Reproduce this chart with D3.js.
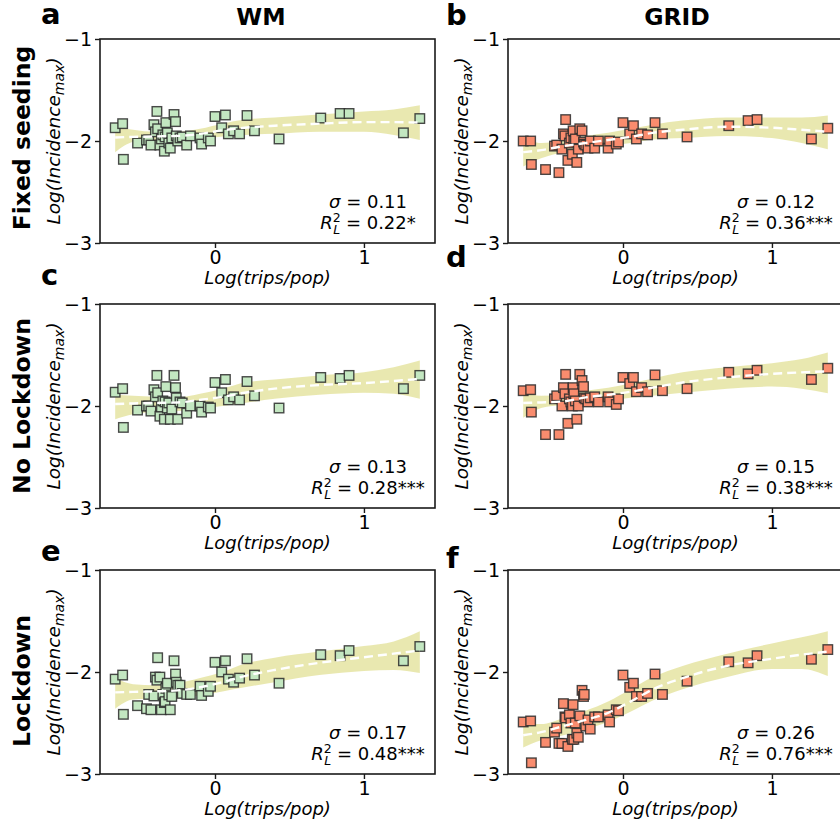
<!DOCTYPE html>
<html><head><meta charset="utf-8">
<script src="https://cdn.jsdelivr.net/npm/d3@7"></script>
<style>body{margin:0;background:#fff} svg{display:block}</style>
</head><body>
<svg id="chart" width="840" height="825"></svg>
<script>
// ---- data ----
const tripsX = [-0.67,-0.62,-0.615,-0.52,-0.46,-0.445,-0.43,-0.41,-0.40,-0.39,-0.385,-0.37,-0.36,-0.35,-0.34,-0.335,-0.33,-0.32,-0.31,-0.30,-0.29,-0.275,-0.265,-0.26,-0.25,-0.235,-0.22,-0.19,-0.165,-0.10,-0.09,-0.045,-0.03,0.00,0.045,0.07,0.09,0.125,0.165,0.215,0.265,0.43,0.71,0.84,0.90,1.265,1.375];
const wmFixed = [-1.87,-1.83,-2.18,-2.02,-1.99,-1.99,-2.04,-1.84,-1.91,-1.71,-1.88,-2.04,-1.98,-1.94,-2.10,-1.96,-1.82,-1.92,-2.02,-2.07,-1.97,-1.74,-1.81,-1.95,-2.00,-1.97,-1.96,-2.04,-1.95,-1.97,-2.03,-1.97,-2.00,-1.76,-1.87,-1.745,-1.93,-1.90,-1.93,-1.75,-1.90,-1.98,-1.775,-1.73,-1.73,-1.92,-1.78];
const gridFixed = [-2.00,-2.00,-2.23,-2.28,-2.05,-2.04,-2.31,-2.08,-1.93,-1.95,-1.79,-2.19,-2.02,-1.97,-2.13,-1.90,-2.00,-1.98,-2.21,-2.08,-1.88,-1.90,-2.01,-2.03,-2.04,-2.07,-2.00,-2.07,-2.00,-2.07,-2.00,-2.03,-2.01,-1.82,-1.93,-1.85,-1.98,-1.93,-1.94,-1.82,-1.93,-1.96,-1.85,-1.80,-1.79,-1.98,-1.875];
const wmNoLock = [-1.865,-1.83,-2.21,-2.04,-2.00,-2.00,-2.05,-1.84,-1.91,-1.70,-1.87,-2.10,-2.01,-1.95,-2.13,-1.96,-1.81,-2.02,-1.97,-2.13,-2.03,-1.70,-1.82,-1.92,-2.13,-1.96,-1.97,-2.07,-2.00,-2.00,-2.06,-2.01,-2.02,-1.77,-1.87,-1.74,-1.94,-1.91,-1.94,-1.76,-1.90,-2.02,-1.72,-1.73,-1.70,-1.83,-1.70];
const gridNoLock = [-1.85,-1.84,-2.06,-2.28,-1.93,-1.90,-2.28,-2.00,-1.82,-1.88,-1.69,-2.17,-1.93,-1.96,-2.00,-1.82,-1.88,-1.95,-2.13,-2.00,-1.69,-1.75,-1.81,-1.92,-1.93,-1.96,-1.92,-1.91,-1.96,-1.91,-1.96,-1.985,-1.93,-1.72,-1.78,-1.72,-1.86,-1.82,-1.86,-1.695,-1.85,-1.83,-1.67,-1.685,-1.65,-1.74,-1.63];
const wmLock = [-2.07,-2.03,-2.415,-2.33,-2.36,-2.22,-2.37,-2.235,-2.05,-2.08,-1.86,-2.05,-2.37,-2.22,-2.30,-2.29,-2.16,-2.11,-2.225,-2.37,-2.24,-1.89,-2.02,-2.10,-2.13,-2.13,-2.21,-2.22,-2.22,-2.14,-2.23,-2.19,-2.14,-1.905,-2.00,-1.89,-2.07,-2.10,-2.06,-1.87,-2.03,-2.11,-1.83,-1.84,-1.79,-1.89,-1.75];
const gridLock = [-2.49,-2.48,-2.89,-2.69,-2.59,-2.55,-2.70,-2.70,-2.31,-2.44,-2.45,-2.73,-2.42,-2.50,-2.66,-2.32,-2.66,-2.50,-2.60,-2.64,-2.43,-2.18,-2.24,-2.22,-2.53,-2.47,-2.56,-2.44,-2.44,-2.42,-2.49,-2.37,-2.38,-2.03,-2.15,-2.11,-2.24,-2.24,-2.21,-2.02,-2.22,-2.09,-1.90,-1.91,-1.84,-1.875,-1.78];

// smoothed fit (LOWESS) and its confidence band, sampled at fitX
const fitX = [-0.67,-0.55,-0.40,-0.25,-0.10,0.05,0.20,0.40,0.70,1.00,1.20,1.375];
const fitWmFixed   = [-1.965,-1.96,-1.955,-1.95,-1.93,-1.895,-1.87,-1.85,-1.83,-1.815,-1.815,-1.82];
const loWmFixed    = [-2.11,-2.01,-1.99,-1.99,-1.98,-1.955,-1.94,-1.93,-1.91,-1.91,-1.94,-1.99];
const hiWmFixed    = [-1.86,-1.89,-1.91,-1.91,-1.88,-1.83,-1.79,-1.77,-1.74,-1.71,-1.69,-1.65];
const fitGridFixed = [-2.11,-2.09,-2.05,-2.02,-1.99,-1.96,-1.92,-1.89,-1.86,-1.87,-1.89,-1.91];
const loGridFixed  = [-2.25,-2.17,-2.11,-2.08,-2.05,-2.02,-1.985,-1.97,-1.95,-1.97,-2.02,-2.08];
const hiGridFixed  = [-1.95,-2.02,-1.99,-1.95,-1.92,-1.88,-1.84,-1.80,-1.77,-1.77,-1.77,-1.75];
const fitWmNoLock  = [-1.98,-1.975,-1.97,-1.965,-1.94,-1.91,-1.87,-1.83,-1.795,-1.775,-1.755,-1.735];
const loWmNoLock   = [-2.13,-2.08,-2.06,-2.05,-2.03,-2.00,-1.97,-1.93,-1.89,-1.87,-1.88,-1.93];
const hiWmNoLock   = [-1.89,-1.90,-1.91,-1.915,-1.88,-1.83,-1.77,-1.74,-1.70,-1.67,-1.62,-1.555];
const fitGridNoLock= [-1.97,-1.965,-1.955,-1.915,-1.89,-1.86,-1.82,-1.77,-1.72,-1.685,-1.67,-1.66];
const loGridNoLock = [-2.115,-2.02,-1.99,-1.97,-1.95,-1.92,-1.90,-1.87,-1.83,-1.81,-1.83,-1.875];
const hiGridNoLock = [-1.85,-1.90,-1.89,-1.85,-1.82,-1.78,-1.73,-1.67,-1.62,-1.58,-1.54,-1.475];
const fitWmLock    = [-2.20,-2.195,-2.19,-2.18,-2.15,-2.10,-2.04,-1.98,-1.91,-1.855,-1.82,-1.79];
const loWmLock     = [-2.36,-2.27,-2.26,-2.25,-2.23,-2.19,-2.15,-2.10,-2.03,-1.99,-1.98,-2.01];
const hiWmLock     = [-2.06,-2.12,-2.13,-2.11,-2.06,-2.00,-1.92,-1.86,-1.80,-1.745,-1.70,-1.60];
const fitGridLock  = [-2.62,-2.59,-2.53,-2.47,-2.40,-2.29,-2.17,-2.06,-1.94,-1.87,-1.83,-1.80];
const loGridLock   = [-2.74,-2.67,-2.62,-2.56,-2.49,-2.39,-2.28,-2.17,-2.05,-1.97,-1.97,-2.04];
const hiGridLock   = [-2.51,-2.51,-2.45,-2.38,-2.29,-2.17,-2.05,-1.94,-1.82,-1.72,-1.66,-1.60];

const columnTitles = ["WM", "GRID"];
const rowTitles = ["Fixed seeding", "No Lockdown", "Lockdown"];
const panelLetters = ["a", "b", "c", "d", "e", "f"];
const sigmaLabels = ["0.11", "0.12", "0.13", "0.15", "0.17", "0.26"];
const r2Labels = ["0.22*", "0.36***", "0.28***", "0.38***", "0.48***", "0.76***"];
const xTicks = [0, 1];
const yTicks = [-3, -2, -1];
const xLabel = "Log(trips/pop)";

// ---- layout ----
const W = 840, H = 825;
const colX = [100, 508], rowY = [39, 304, 570];
const pw = 335, ph = 204;
const colors = ["#c3e7c1", "#f98c6e"];
const FONT = "DejaVu Sans, Arial, sans-serif";

const panels = [
  {y: wmFixed,    fit: fitWmFixed,    lo: loWmFixed,    hi: hiWmFixed},
  {y: gridFixed,  fit: fitGridFixed,  lo: loGridFixed,  hi: hiGridFixed},
  {y: wmNoLock,   fit: fitWmNoLock,   lo: loWmNoLock,   hi: hiWmNoLock},
  {y: gridNoLock, fit: fitGridNoLock, lo: loGridNoLock, hi: hiGridNoLock},
  {y: wmLock,     fit: fitWmLock,     lo: loWmLock,     hi: hiWmLock},
  {y: gridLock,   fit: fitGridLock,   lo: loGridLock,   hi: hiGridLock}
];

const svg = d3.select("#chart");
svg.append("rect").attr("width", W).attr("height", H).attr("fill", "#fff");

const x = d3.scaleLinear().domain([-0.772, 1.477]).range([0, pw]);
const y = d3.scaleLinear().domain([-3, -1]).range([ph, 0]);
const fmt = d3.format("d");

panels.forEach((p, i) => {
  const col = i % 2, row = Math.floor(i / 2);
  const g = svg.append("g").attr("transform", `translate(${colX[col]},${rowY[row]})`);

  // band
  const band = fitX.map((fx, k) => ({x: fx, lo: p.lo[k], hi: p.hi[k], f: p.fit[k]}));
  g.append("path").datum(band)
    .attr("d", d3.area().curve(d3.curveMonotoneX).x(d => x(d.x)).y0(d => y(d.lo)).y1(d => y(d.hi)))
    .attr("fill", "#c4c330").attr("fill-opacity", 0.38);

  // points
  const pts = tripsX.map((tx, k) => ({x: tx, y: p.y[k]}));
  const s = 9.5;
  g.selectAll("rect.pt").data(pts).join("rect").attr("class", "pt")
    .attr("x", d => x(d.x) - s / 2).attr("y", d => y(d.y) - s / 2)
    .attr("width", s).attr("height", s)
    .attr("fill", colors[col]).attr("stroke", "#2a2a2a").attr("stroke-width", 1.4)
    .attr("stroke-opacity", 0.85);

  // fit line
  g.append("path").datum(band)
    .attr("d", d3.line().curve(d3.curveMonotoneX).x(d => x(d.x)).y(d => y(d.f)))
    .attr("fill", "none").attr("stroke", "#fff").attr("stroke-width", 2.4)
    .attr("stroke-dasharray", "9,5");

  // frame
  g.append("rect").attr("width", pw).attr("height", ph)
    .attr("fill", "none").attr("stroke", "#1a1a1a").attr("stroke-width", 1.6);

  // axes
  const ya = g.append("g").call(d3.axisLeft(y).tickValues(yTicks).tickFormat(fmt).tickSize(5).tickPadding(3));
  const xa = g.append("g").attr("transform", `translate(0,${ph})`)
    .call(d3.axisBottom(x).tickValues(xTicks).tickFormat(fmt).tickSize(5).tickPadding(3));
  [ya, xa].forEach(a => {
    a.select(".domain").remove();
    a.selectAll(".tick line").attr("stroke", "#1a1a1a").attr("stroke-width", 1.4);
    a.selectAll(".tick text").attr("font-family", FONT).attr("font-size", 19).attr("fill", "#000");
  });

  // axis labels
  g.append("text").attr("x", pw / 2).attr("y", ph + 41).attr("text-anchor", "middle")
    .attr("font-family", FONT).attr("font-size", 18).attr("font-style", "italic").text(xLabel);

  const yl = g.append("text").attr("transform", `translate(-40,${ph / 2}) rotate(-90)`)
    .attr("text-anchor", "middle").attr("font-family", FONT).attr("font-size", 18.5).attr("font-style", "italic");
  yl.append("tspan").text("Log(Incidence");
  yl.append("tspan").attr("font-size", 14).attr("dy", 4).text("max");
  yl.append("tspan").attr("dy", -4).text(")");

  // stats annotation
  const cx = pw - 67;
  const t1 = g.append("text").attr("x", cx).attr("y", 169).attr("text-anchor", "middle")
    .attr("font-family", FONT).attr("font-size", 18);
  t1.append("tspan").attr("font-style", "italic").text("σ");
  t1.append("tspan").text(" = " + sigmaLabels[i]);

  const t2 = g.append("text").attr("x", cx).attr("y", 190).attr("text-anchor", "middle")
    .attr("font-family", FONT).attr("font-size", 18);
  t2.append("tspan").attr("font-style", "italic").text("R");
  t2.append("tspan").attr("font-size", 12.5).attr("dy", -7).text("2");
  t2.append("tspan").attr("font-size", 12.5).attr("font-style", "italic").attr("dx", -7.5).attr("dy", 12).text("L");
  t2.append("tspan").attr("dy", -5).text(" = " + r2Labels[i]);
});

// column titles
columnTitles.forEach((t, c) => {
  svg.append("text").attr("x", c === 0 ? 261 : 677).attr("y", 25).attr("text-anchor", "middle")
    .attr("font-family", FONT).attr("font-size", 23.5).attr("font-weight", "bold").text(t);
});

// row titles
const rowCenters = [138, 406, 681];
rowTitles.forEach((t, r) => {
  svg.append("text").attr("transform", `translate(30,${rowCenters[r]}) rotate(-90)`)
    .attr("text-anchor", "middle").attr("font-family", FONT).attr("font-size", 23.5)
    .attr("font-weight", "bold").text(t);
});

// panel letters
const letterPos = [[41, 24], [446, 25], [41, 285], [446, 267], [41, 561], [446, 568]];
panelLetters.forEach((l, i) => {
  svg.append("text").attr("x", letterPos[i][0]).attr("y", letterPos[i][1])
    .attr("font-family", FONT).attr("font-size", 29).attr("font-weight", "bold").text(l);
});
</script>
</body></html>
